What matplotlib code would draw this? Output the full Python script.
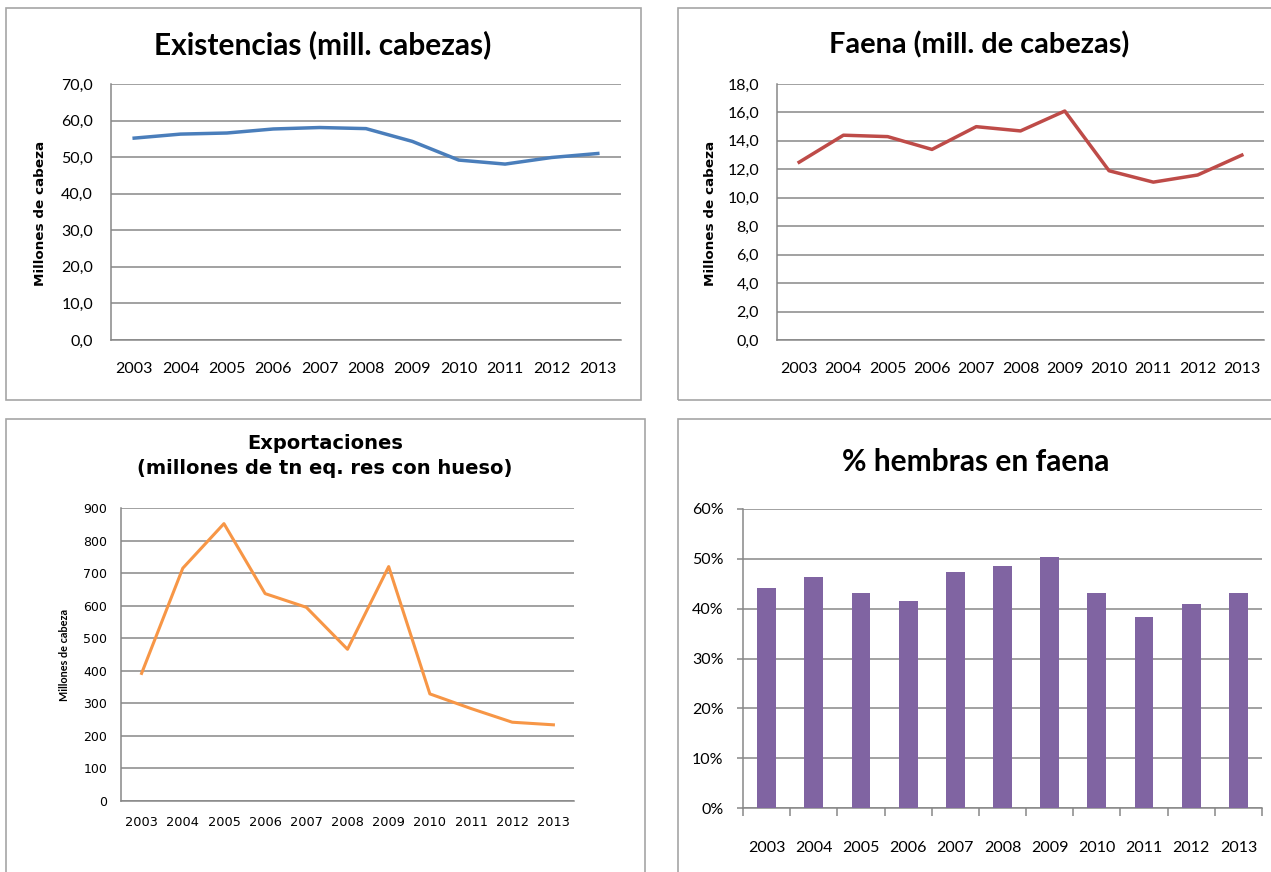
import matplotlib
matplotlib.use("Agg")
import matplotlib.pyplot as plt
from matplotlib.patches import Rectangle
from matplotlib.ticker import FuncFormatter

W, H = 1271, 872

years = ["2003", "2004", "2005", "2006", "2007", "2008", "2009", "2010", "2011", "2012", "2013"]
existencias = [55.2, 56.3, 56.6, 57.7, 58.1, 57.8, 54.3, 49.2, 48.1, 49.9, 51.0]
faena = [12.5, 14.4, 14.3, 13.4, 15.0, 14.7, 16.1, 11.9, 11.1, 11.6, 13.0]
exportaciones = [392, 715, 852, 637, 595, 466, 720, 329, 284, 242, 234]
hembras = [0.441, 0.464, 0.432, 0.416, 0.474, 0.486, 0.503, 0.432, 0.384, 0.410, 0.432]

BLUE = "#4A7EBB"
RED = "#BE4B48"
ORANGE = "#F79646"
PURPLE = "#8064A2"
GRID = "#878787"
FRAME = "#A6A6A6"

FONT = "Lato"
plt.rcParams['font.family'] = [FONT, 'DejaVu Sans']

fig = plt.figure(figsize=(W / 100, H / 100), dpi=100)


def px_axes(left, top, right, bottom):
    return fig.add_axes([left / W, 1 - bottom / H, (right - left) / W, (bottom - top) / H])


def frame(left, top, right, bottom):
    fig.patches.append(Rectangle((left / W, 1 - bottom / H), (right - left) / W, (bottom - top) / H,
                                 transform=fig.transFigure, fill=False, edgecolor=FRAME, lw=1.2))


def ftext(x, y, s, **kw):
    fig.text(x / W, 1 - y / H, s, ha="center", va="center", **kw)


def style(ax, ymax, step, fmt, ypad, xpad, ysize, xsize, ticks=False, tickfont=None):
    ax.set_xlim(-0.5, len(years) - 0.5)
    ax.set_ylim(0, ymax)
    n = int(round(ymax / step))
    ax.set_yticks([i * step for i in range(n + 1)])
    ax.yaxis.set_major_formatter(FuncFormatter(fmt))
    ax.set_xticks(range(len(years)))
    ax.set_xticklabels(years)
    ax.grid(axis="y", color=GRID, lw=1.1)
    ax.set_axisbelow(True)
    for s in ["top", "right"]:
        ax.spines[s].set_visible(False)
    for s in ["left", "bottom"]:
        ax.spines[s].set_color(GRID)
        ax.spines[s].set_linewidth(1.1)
    fam = tickfont if tickfont else [FONT, 'DejaVu Sans']
    ax.tick_params(axis="y", length=0, pad=ypad, labelsize=ysize, colors="#000000")
    ax.tick_params(axis="x", length=0, pad=xpad, labelsize=xsize, colors="#000000")
    for lab in ax.get_xticklabels() + ax.get_yticklabels():
        lab.set_family(fam)
    if ticks:
        ax.tick_params(axis="y", length=4, color=GRID, width=1.1, pad=ypad - 4)
        ax.set_xticks([i - 0.5 for i in range(len(years) + 1)], minor=True)
        ax.tick_params(axis="x", which="minor", length=6, color=GRID, width=1.1)


comma = lambda v, p: f"{v:.1f}".replace(".", ",")

# ---- Top-left: Existencias ----
frame(6, 8, 641, 400)
ax1 = px_axes(111, 84, 621, 340)
ax1.plot(range(len(years)), existencias, color=BLUE, lw=2.5, solid_joinstyle="round")
style(ax1, 70, 10, comma, 13, 16, 11.5, 11.5)
ftext(323, 45, "Existencias (mill. cabezas)", fontsize=21.5, fontweight="bold")
ftext(41, 213, "Millones de cabeza", fontsize=9.7, fontweight="bold", rotation=90, family="DejaVu Sans")

# ---- Top-right: Faena ----
frame(678, 8, 1290, 400)
ax2 = px_axes(777, 84, 1264, 340)
ax2.plot(range(len(years)), faena, color=RED, lw=2.5, solid_joinstyle="round")
style(ax2, 18, 2, comma, 13, 16, 11.5, 11.5)
ftext(979, 45, "Faena (mill. de cabezas)", fontsize=20.8, fontweight="bold")
ftext(710, 213, "Millones de cabeza", fontsize=9.7, fontweight="bold", rotation=90, family="DejaVu Sans")

# ---- Bottom-left: Exportaciones ----
frame(6, 419, 645, 890)
ax3 = px_axes(121, 508, 574, 801)
ax3.plot(range(len(years)), exportaciones, color=ORANGE, lw=2.2, solid_joinstyle="round")
style(ax3, 900, 100, lambda v, p: f"{int(v)}", 10, 11, 9, 9.3, tickfont=["DejaVu Sans"])
ftext(325, 443, "Exportaciones", fontsize=14, fontweight="bold", family="DejaVu Sans")
ftext(325, 468, "(millones de tn eq. res con hueso)", fontsize=14, fontweight="bold", family="DejaVu Sans")
ftext(65, 655, "Millones de cabeza", fontsize=7.8, fontweight="bold", rotation=90)

# ---- Bottom-right: % hembras en faena ----
frame(678, 419, 1290, 890)
ax4 = px_axes(743, 509, 1262, 808)
ax4.bar(range(len(years)), hembras, width=0.4, color=PURPLE, zorder=3)
style(ax4, 0.6, 0.1, lambda v, p: f"{int(round(v * 100))}%", 14, 24, 11.5, 11.5, ticks=True)
ftext(976, 462, "% hembras en faena", fontsize=21.5, fontweight="bold")

fig.savefig("out.png", dpi=100)
